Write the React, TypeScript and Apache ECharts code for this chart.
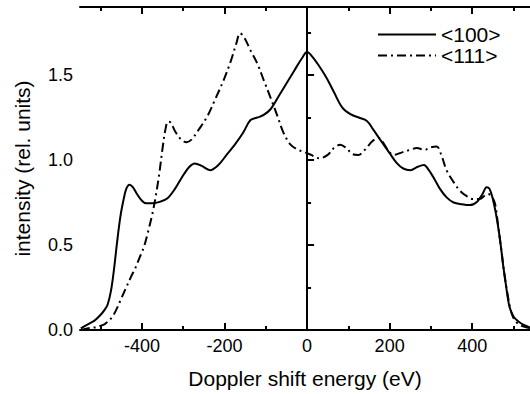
import React, { useEffect, useRef } from "react";
import * as echarts from "echarts";

const X100 = [-548, -530, -515, -500, -490, -483, -475, -468, -460, -452, -445, -438, -430, -422, -412, -400, -390, -375, -355, -338, -320, -300, -285, -272, -255, -235, -215, -195, -175, -155, -137, -120, -105, -88, -70, -50, -30, -12, 0, 12, 30, 48, 65, 85, 105, 125, 145, 160, 177, 200, 218, 233, 250, 268, 283, 295, 308, 322, 338, 355, 375, 395, 412, 425, 435, 442, 450, 460, 468, 475, 482, 490, 500, 512, 525, 540];
const Y100 = [0.01, 0.035, 0.055, 0.09, 0.12, 0.15, 0.23, 0.35, 0.52, 0.67, 0.76, 0.83, 0.855, 0.84, 0.8, 0.76, 0.745, 0.745, 0.755, 0.775, 0.83, 0.91, 0.96, 0.98, 0.965, 0.94, 0.97, 1.03, 1.09, 1.16, 1.235, 1.25, 1.265, 1.3, 1.37, 1.45, 1.53, 1.6, 1.635, 1.61, 1.55, 1.48, 1.4, 1.31, 1.27, 1.25, 1.23, 1.18, 1.12, 1.04, 0.98, 0.95, 0.94, 0.96, 0.97, 0.94, 0.89, 0.83, 0.78, 0.75, 0.74, 0.735, 0.755, 0.8, 0.84, 0.83, 0.77, 0.65, 0.52, 0.38, 0.26, 0.14, 0.08, 0.05, 0.03, 0.015];

const X111 = [-548, -530, -515, -500, -490, -480, -471, -460, -451, -440, -427, -415, -405, -395, -385, -375, -367, -358, -350, -343, -337, -330, -320, -305, -292, -280, -262, -242, -222, -202, -185, -172, -162, -152, -138, -121, -105, -89, -72, -57, -40, -22, -5, 10, 30, 50, 65, 80, 95, 110, 124, 140, 158, 173, 185, 198, 210, 230, 250, 266, 285, 300, 314, 325, 338, 355, 370, 385, 402, 418, 430, 438, 446, 455, 462, 470, 478, 485, 492, 500, 512, 525, 540];
const Y111 = [0.0, 0.01, 0.015, 0.025, 0.035, 0.055, 0.08, 0.13, 0.18, 0.24, 0.31, 0.37, 0.43, 0.49, 0.58, 0.68, 0.78, 0.92, 1.07, 1.18, 1.225, 1.22, 1.17, 1.12, 1.105, 1.12, 1.18, 1.255, 1.36, 1.47, 1.58, 1.68, 1.745, 1.72, 1.65, 1.57, 1.47, 1.37, 1.26, 1.16, 1.09, 1.06, 1.045, 1.03, 1.01, 1.03, 1.07, 1.09, 1.07, 1.035, 1.03, 1.06, 1.11, 1.13, 1.1, 1.05, 1.03, 1.045, 1.06, 1.07, 1.06, 1.075, 1.08, 1.03, 0.94, 0.87, 0.82, 0.79, 0.77, 0.77, 0.79, 0.8, 0.79, 0.745, 0.63, 0.48, 0.33, 0.22, 0.13, 0.07, 0.035, 0.02, 0.01];

const SERIES_NAMES = ["<100>", "<111>"];
const X_MAJOR = [-400, -200, 0, 200, 400];
const X_MINOR = [-500, -300, -100, 100, 300, 500];
const Y_MAJOR = [0, 0.5, 1.0, 1.5];
const Y_MINOR = [0.25, 0.75, 1.25, 1.75];
const X_MIN = -550;
const X_MAX = 540;
const Y_MIN = 0;
const Y_MAX = 1.9;

const FONT = "Liberation Sans";

export default function App() {
  const ref = useRef<HTMLDivElement>(null);
  useEffect(() => {
    if (!ref.current) return;
    const chart = echarts.init(ref.current, undefined, { renderer: "svg" });
    const axisLine = { show: true, lineStyle: { color: "#000", width: 2 } };
    const xBase = { type: "value", min: X_MIN, max: X_MAX, splitLine: { show: false } };
    const yBase = { type: "value", min: Y_MIN, max: Y_MAX, splitLine: { show: false } };
    chart.setOption({
      animation: false,
      backgroundColor: "#fff",
      textStyle: { fontFamily: FONT, color: "#000" },
      grid: { left: 80, right: 0, top: 7, bottom: 64, containLabel: false },
      legend: {
        data: SERIES_NAMES,
        orient: "vertical",
        left: 372,
        top: 19,
        itemWidth: 58,
        itemHeight: 10,
        itemGap: 0,
        itemStyle: { color: "transparent", borderWidth: 0, opacity: 0 },
        textStyle: { fontFamily: FONT, fontSize: 21, color: "#000", lineHeight: 19 },
      },
      xAxis: [
        {
          ...xBase,
          position: "bottom",
          axisLine,
          axisTick: { show: true, inside: true, length: 7, customValues: X_MAJOR, lineStyle: { color: "#000", width: 2 } },
          axisLabel: { show: true, customValues: X_MAJOR, margin: 7, fontSize: 18, color: "#000", fontFamily: FONT },
          name: "Doppler shift energy (eV)",
          nameLocation: "middle",
          nameGap: 38,
          nameTextStyle: { fontSize: 21, color: "#000", fontFamily: FONT },
        },
        {
          ...xBase,
          position: "bottom",
          axisLine: { show: false },
          axisTick: { show: true, inside: true, length: 4, customValues: X_MINOR, lineStyle: { color: "#000", width: 2 } },
          axisLabel: { show: false },
        },
        {
          ...xBase,
          position: "top",
          axisLine,
          axisTick: { show: true, inside: true, length: 7, customValues: X_MAJOR, lineStyle: { color: "#000", width: 2 } },
          axisLabel: { show: false },
        },
        {
          ...xBase,
          position: "top",
          axisLine: { show: false },
          axisTick: { show: true, inside: true, length: 4, customValues: X_MINOR, lineStyle: { color: "#000", width: 2 } },
          axisLabel: { show: false },
        },
      ],
      yAxis: [
        {
          ...yBase,
          position: "left",
          axisLine,
          axisTick: { show: true, inside: true, length: 7, customValues: Y_MAJOR, lineStyle: { color: "#000", width: 2 } },
          axisLabel: {
            show: true,
            customValues: Y_MAJOR,
            margin: 7,
            fontSize: 18,
            color: "#000",
            fontFamily: FONT,
            formatter: (v: number) => v.toFixed(1),
          },
          name: "intensity (rel. units)",
          nameLocation: "middle",
          nameGap: 47,
          nameTextStyle: { fontSize: 21, color: "#000", fontFamily: FONT },
        },
        {
          ...yBase,
          position: "left",
          axisLine: { show: false },
          axisTick: { show: true, inside: true, length: 4, customValues: Y_MINOR, lineStyle: { color: "#000", width: 2 } },
          axisLabel: { show: false },
        },
      ],
      series: [
        {
          name: SERIES_NAMES[0],
          type: "line",
          xAxisIndex: 0,
          yAxisIndex: 0,
          data: X100.map((x, i) => [x, Y100[i]]),
          smooth: 0.35,
          symbol: "none",
          showSymbol: false,
          lineStyle: { color: "#000", width: 2, type: "solid" },
          itemStyle: { color: "#000" },
          markLine: {
            silent: true,
            symbol: ["none", "none"],
            label: { show: false },
            lineStyle: { color: "#000", width: 2, type: "solid" },
            data: [{ xAxis: 0 }],
          },
        },
        {
          name: SERIES_NAMES[1],
          type: "line",
          xAxisIndex: 0,
          yAxisIndex: 0,
          data: X111.map((x, i) => [x, Y111[i]]),
          smooth: 0.35,
          symbol: "none",
          showSymbol: false,
          lineStyle: { color: "#000", width: 2, type: [9, 4, 2, 4] },
          itemStyle: { color: "#000" },
        },
      ],
    });
    return () => chart.dispose();
  }, []);
  return (
    <div
      ref={ref}
      style={{ position: "absolute", left: 0, top: 0, width: 530, height: 394, background: "#fff" }}
    />
  );
}
